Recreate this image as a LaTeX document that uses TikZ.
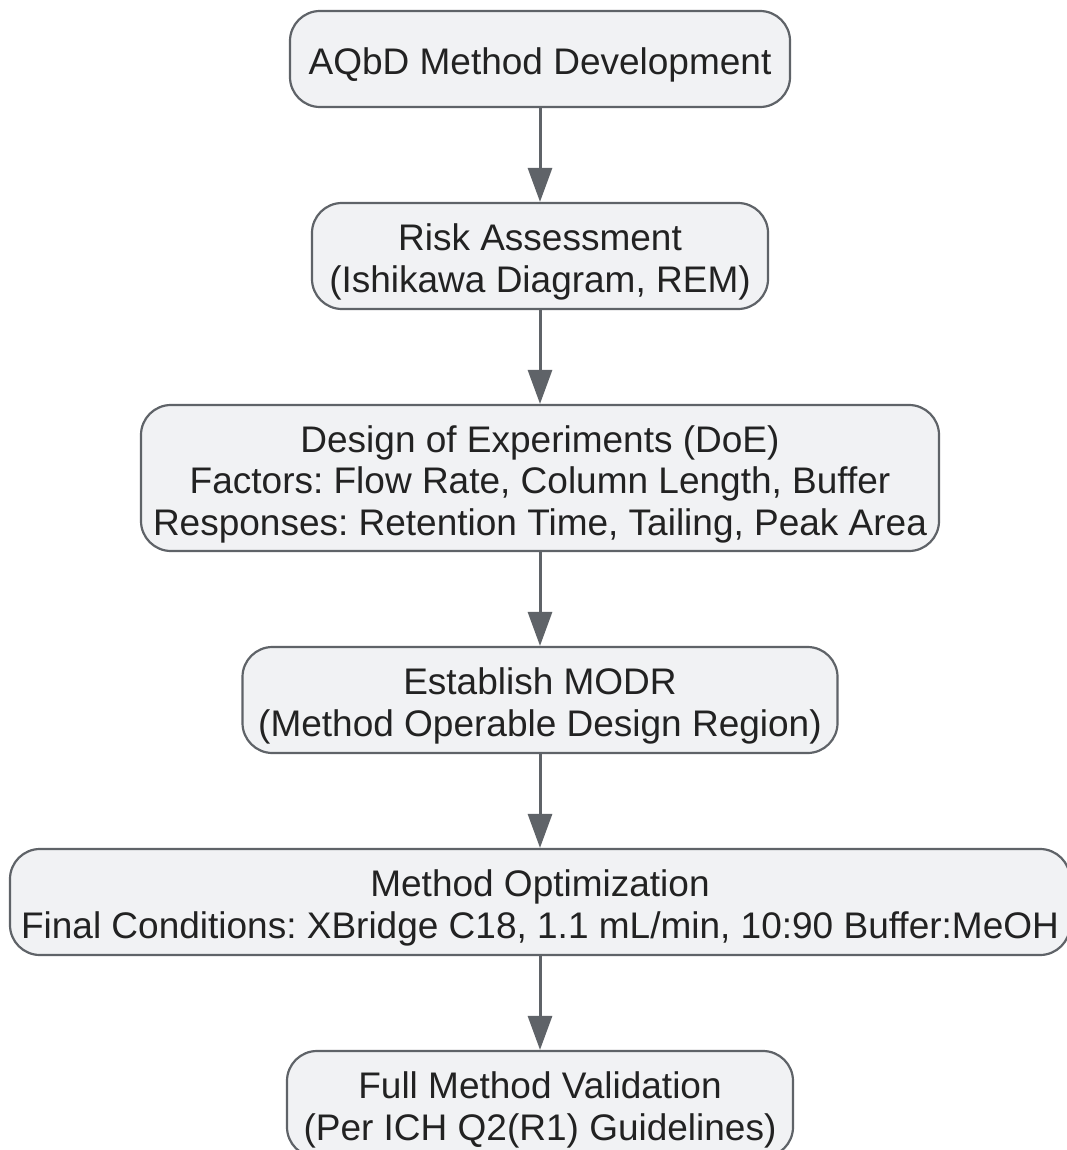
\documentclass[tikz,border=0pt]{standalone}
\usepackage{fontspec}
\setmainfont{Liberation Sans}
\usetikzlibrary{arrows.meta}
\definecolor{boxfill}{HTML}{F1F2F4}
\definecolor{boxline}{HTML}{5F6368}
\definecolor{txt}{HTML}{222222}
\frenchspacing
\begin{document}
\begin{tikzpicture}[x=1pt,y=-1pt,
  stepbox/.style={draw=boxline, line width=2.2pt, fill=boxfill, rounded corners=30pt, inner sep=0pt},
  steptext/.style={align=center, text=txt, font=\fontsize{37}{41.5}\selectfont\frenchspacing, inner sep=0pt, yshift=-6pt},
  arr/.style={draw=boxline, line width=3pt, -{Triangle[length=34pt,width=24pt]}}]
\useasboundingbox (0,0) rectangle (1067,1150);
\node[stepbox, minimum width=500pt, minimum height=96pt] (a) at (540,59) {};
\node[steptext] (at) at (a.center) {AQbD Method Development};
\node[stepbox, minimum width=456pt, minimum height=106pt] (b) at (540,256) {};
\node[steptext] (bt) at (b.center) {Risk Assessment\\(Ishikawa Diagram, REM)};
\node[stepbox, minimum width=798pt, minimum height=146pt] (c) at (540,478) {};
\node[steptext] (ct) at (c.center) {Design of Experiments (DoE)\\Factors: Flow Rate, Column Length, Buffer\\Responses: Retention Time, Tailing, Peak Area};
\node[stepbox, minimum width=595pt, minimum height=106pt] (d) at (540,700) {};
\node[steptext] (dt) at (d.center) {Establish MODR\\(Method Operable Design Region)};
\node[stepbox, minimum width=1060pt, minimum height=106pt] (e) at (540,902) {};
\node[steptext] (et) at (e.center) {Method Optimization\\Final Conditions: XBridge C18, 1.1 mL/min, 10:90 Buffer:MeOH};
\node[stepbox, minimum width=506pt, minimum height=106pt] (f) at (540,1104) {};
\node[steptext] (ft) at (f.center) {Full Method Validation\\(Per ICH Q2(R1) Guidelines)};
\draw[arr] (a.south) -- (b.north);
\draw[arr] (b.south) -- (c.north);
\draw[arr] (c.south) -- (d.north);
\draw[arr] (d.south) -- (e.north);
\draw[arr] (e.south) -- (f.north);
\end{tikzpicture}
\end{document}
